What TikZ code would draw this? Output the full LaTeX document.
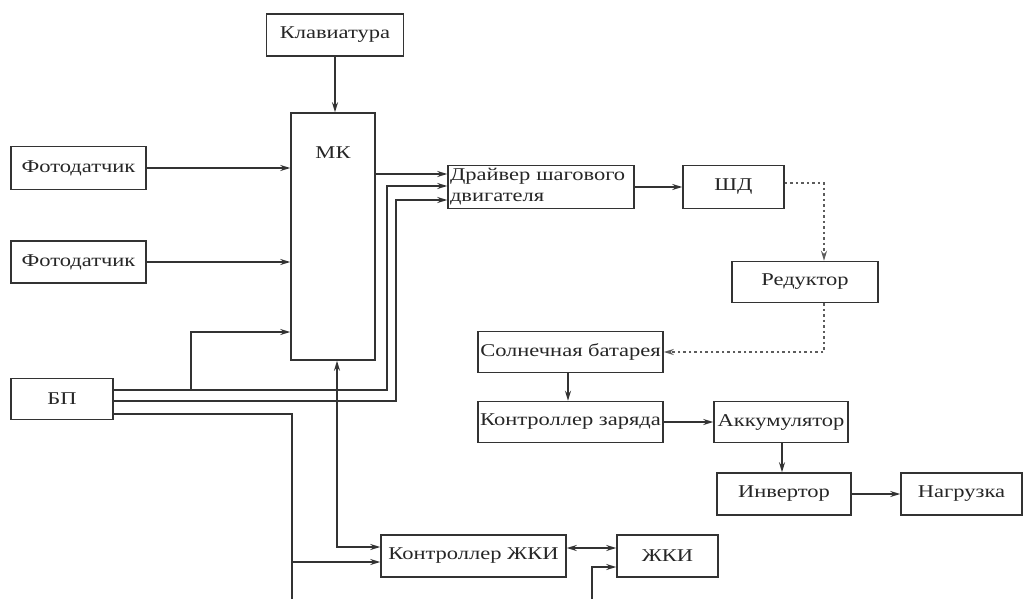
\documentclass[tikz,border=0pt]{standalone}
\usepackage{fontspec}
\setmainfont{Liberation Serif}[FakeStretch=1.25]
\usetikzlibrary{arrows.meta}
\definecolor{ln}{HTML}{333333}
\tikzset{
  blk/.style={draw=ln, line width=1.5pt, rectangle, inner sep=0pt, minimum height=42pt, font=\fontsize{18}{21}\selectfont, text=black!85},
  arr/.style={draw=ln, line width=1.5pt, -{Stealth[length=10pt,width=6pt]}},
  darr/.style={draw=ln, line width=1.5pt, {Stealth[length=10pt,width=6pt]}-{Stealth[length=10pt,width=6pt]}},
  dot/.style={draw=ln!80, line width=1.5pt, dash pattern=on 2.5pt off 3pt, -{Stealth[length=10pt,width=6pt,open]}}
}
\begin{document}
\begin{tikzpicture}[x=1pt,y=-1pt]
\useasboundingbox (0,0) rectangle (1025,599);
\clip (0,0) rectangle (1025,599);
\fill[white] (0,0) rectangle (1025,599);
% blocks
\node[blk, minimum width=137pt] (klav) at (335,35) {Клавиатура};
\node[blk, minimum width=84pt, minimum height=247pt,
      label={[anchor=center, yshift=-40pt, font=\fontsize{18}{21}\selectfont, text=black!85]north:МК}] (mk) at (333,236.5) {};
\node[blk, minimum width=186pt, minimum height=43pt, align=left, text width=182pt] (drv) at (541,187) {Драйвер шагового\\двигателя};
\node[blk, minimum width=101pt, minimum height=43pt] (shd) at (733.5,187) {ШД};
\node[blk, minimum width=146pt, minimum height=41pt] (red) at (805,282) {Редуктор};
\node[blk, minimum width=185pt, minimum height=41pt] (sol) at (570.5,352) {Солнечная батарея};
\node[blk, minimum width=185pt, minimum height=41pt] (kz) at (570.5,422) {Контроллер заряда};
\node[blk, minimum width=134pt, minimum height=41pt] (akk) at (781,422) {Аккумулятор};
\node[blk, minimum width=134pt] (inv) at (784,494) {Инвертор};
\node[blk, minimum width=121pt] (nag) at (961.5,494) {Нагрузка};
\node[blk, minimum width=185pt] (kzhki) at (473.5,556) {Контроллер ЖКИ};
\node[blk, minimum width=101pt] (zhki) at (667.5,556) {ЖКИ};
\node[blk, minimum width=135pt, minimum height=43pt] (f1) at (78.5,168) {Фотодатчик};
\node[blk, minimum width=135pt] (f2) at (78.5,262) {Фотодатчик};
\node[blk, minimum width=102pt, minimum height=41pt] (bp) at (62,399) {БП};
% connectors
\draw[arr] (klav.south) -- (klav.south |- mk.north);
\draw[arr] (f1.east) -- (f1.east -| mk.west);
\draw[arr] (f2.east) -- (f2.east -| mk.west);
\draw[arr] (mk.east |- 0,174) -- (drv.west |- 0,174);
\draw[arr] (bp.east |- 0,390) -- (387,390) -- (387,186) -- (drv.west |- 0,186);
\draw[arr] (bp.east |- 0,401) -- (396,401) -- (396,200) -- (drv.west |- 0,200);
\draw[arr] (191,390) -- (191,332) -- (mk.west |- 0,332);
\draw[arr] (bp.east |- 0,414) -- (292,414) -- (292,606) -- (592,606) -- (592,567) -- (zhki.west |- 0,567);
\draw[arr] (292,562) -- (kzhki.west |- 0,562);
\draw[darr] (mk.south -| 337,0) -- (337,547) -- (kzhki.west |- 0,547);
\draw[darr] (kzhki.east |- 0,548) -- (zhki.west |- 0,548);
\draw[arr] (drv.east) -- (shd.west);
\draw[dot] (shd.east |- 0,183) -- (824,183) -- (red.north -| 824,0);
\draw[dot] (red.south -| 824,0) -- (824,352) -- (sol.east |- 0,352);
\draw[arr] (sol.south -| 568,0) -- (kz.north -| 568,0);
\draw[arr] (kz.east) -- (akk.west);
\draw[arr] (akk.south -| 782,0) -- (inv.north -| 782,0);
\draw[arr] (inv.east) -- (nag.west);
\end{tikzpicture}
\end{document}
